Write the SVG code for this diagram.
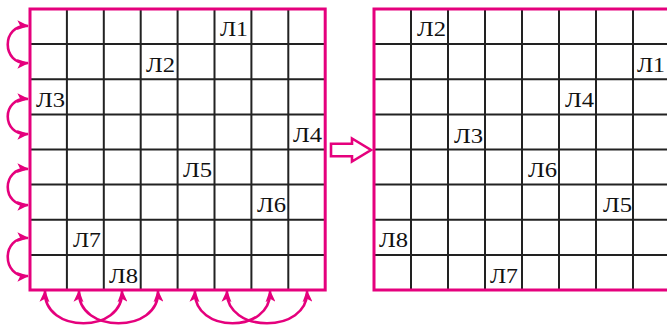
<svg xmlns="http://www.w3.org/2000/svg" width="667" height="328" viewBox="0 0 667 328">
<style>
.grid{stroke:#222;stroke-width:2;fill:none}
.frame{stroke:#E5007D;stroke-width:3;fill:none}
.conn{stroke:#E5007D;stroke-width:2.6;fill:none}
.lbl{font-family:"Liberation Serif","Times New Roman",serif;font-size:22px;fill:#111}
</style>
<defs>
<marker id="ah" viewBox="0 0 12 10" refX="11" refY="5" markerWidth="12" markerHeight="10" markerUnits="userSpaceOnUse" orient="auto-start-reverse">
<path d="M0,0 L12,5 L0,10 L3,5 Z" fill="#E5007D"/>
</marker>
</defs>
<rect width="667" height="328" fill="#fff"/>
<g id="board-left">
<path class="grid" d="M66.9,9V290M103.8,9V290M140.7,9V290M177.6,9V290M214.5,9V290M251.4,9V290M288.3,9V290M30,44.1H325.2M30,79.25H325.2M30,114.4H325.2M30,149.5H325.2M30,184.6H325.2M30,219.75H325.2M30,254.9H325.2"/>
<rect class="frame" x="30" y="9" width="295.2" height="281"/>
<text class="lbl" x="220" y="36" textLength="28" lengthAdjust="spacingAndGlyphs">Л1</text>
<text class="lbl" x="146" y="72" textLength="29" lengthAdjust="spacingAndGlyphs">Л2</text>
<text class="lbl" x="36" y="107" textLength="29" lengthAdjust="spacingAndGlyphs">Л3</text>
<text class="lbl" x="293" y="142" textLength="29" lengthAdjust="spacingAndGlyphs">Л4</text>
<text class="lbl" x="183" y="177" textLength="29" lengthAdjust="spacingAndGlyphs">Л5</text>
<text class="lbl" x="257" y="212" textLength="29" lengthAdjust="spacingAndGlyphs">Л6</text>
<text class="lbl" x="73" y="247" textLength="28" lengthAdjust="spacingAndGlyphs">Л7</text>
<text class="lbl" x="109" y="283" textLength="29" lengthAdjust="spacingAndGlyphs">Л8</text>
</g>
<g id="board-right">
<path class="grid" d="M411,9V290M448,9V290M485,9V290M522,9V290M559,9V290M596,9V290M633,9V290M374,44.1H670M374,79.25H670M374,114.4H670M374,149.5H670M374,184.6H670M374,219.75H670M374,254.9H670"/>
<rect class="frame" x="374" y="9" width="296" height="281"/>
<text class="lbl" x="417" y="36" textLength="29" lengthAdjust="spacingAndGlyphs">Л2</text>
<text class="lbl" x="637" y="72" textLength="28" lengthAdjust="spacingAndGlyphs">Л1</text>
<text class="lbl" x="565" y="107" textLength="29" lengthAdjust="spacingAndGlyphs">Л4</text>
<text class="lbl" x="454" y="143" textLength="29" lengthAdjust="spacingAndGlyphs">Л3</text>
<text class="lbl" x="528" y="177" textLength="29" lengthAdjust="spacingAndGlyphs">Л6</text>
<text class="lbl" x="603" y="212" textLength="29" lengthAdjust="spacingAndGlyphs">Л5</text>
<text class="lbl" x="379" y="247" textLength="29" lengthAdjust="spacingAndGlyphs">Л8</text>
<text class="lbl" x="490" y="283" textLength="28" lengthAdjust="spacingAndGlyphs">Л7</text>
</g>
<g id="connectors">
<path class="conn" marker-start="url(#ah)" marker-end="url(#ah)" d="M28,26 C1,24 1,65 28,63"/>
<path class="conn" marker-start="url(#ah)" marker-end="url(#ah)" d="M28,99 C1,97 1,136 28,134"/>
<path class="conn" marker-start="url(#ah)" marker-end="url(#ah)" d="M28,169 C1,167 1,207 28,205"/>
<path class="conn" marker-start="url(#ah)" marker-end="url(#ah)" d="M28,238 C1,236 1,278 28,276"/>
<path class="conn" marker-start="url(#ah)" marker-end="url(#ah)" d="M45,291 C43,334 124,334 122,291"/>
<path class="conn" marker-start="url(#ah)" marker-end="url(#ah)" d="M79,291 C77,334 160,334 158,291"/>
<path class="conn" marker-start="url(#ah)" marker-end="url(#ah)" d="M195,291 C193,334 272,334 270,291"/>
<path class="conn" marker-start="url(#ah)" marker-end="url(#ah)" d="M227,291 C225,334 309,334 307,291"/>
<polygon id="transform-arrow" points="331,143.8 352,143.8 352,138.5 371,150 352,161.5 352,156.2 331,156.2" fill="#fff" stroke="#E5007D" stroke-width="2.6" stroke-linejoin="miter"/>
</g>
</svg>
